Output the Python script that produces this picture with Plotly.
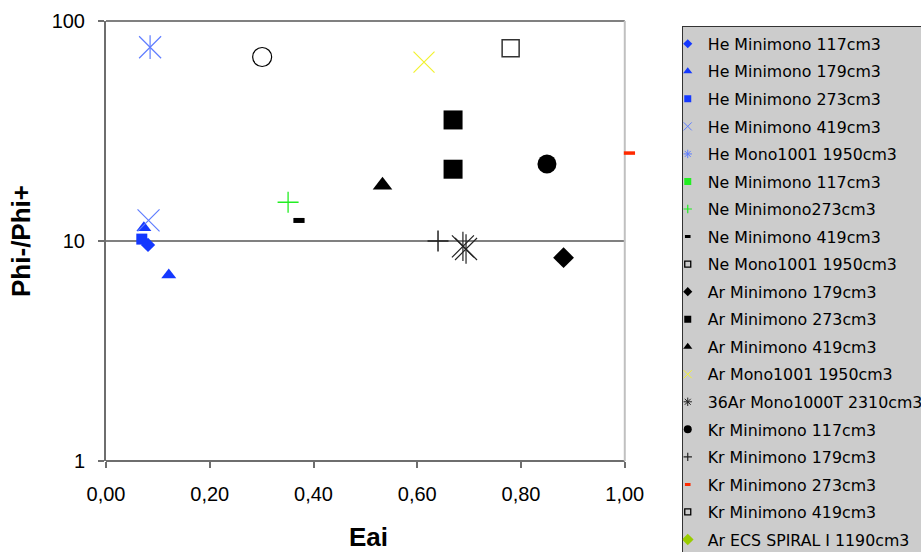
import plotly.graph_objects as go

# ---- data ----
names = [
    "He Minimono 117cm3", "He Minimono 179cm3", "He Minimono 273cm3",
    "He Minimono 419cm3", "He Mono1001 1950cm3", "Ne Minimono 117cm3",
    "Ne Minimono273cm3", "Ne Minimono 419cm3", "Ne Mono1001 1950cm3",
    "Ar Minimono 179cm3", "Ar Minimono 273cm3", "Ar Minimono 419cm3",
    "Ar Mono1001 1950cm3", "36Ar Mono1000T 2310cm3", "Kr Minimono 117cm3",
    "Kr Minimono 179cm3", "Kr Minimono 273cm3", "Kr Minimono 419cm3",
    "Ar ECS SPIRAL I 1190cm3",
]
he117_x, he117_y = [0.081], [9.6]
he179_x, he179_y = [0.073, 0.121], [11.5, 7.0]
he273_x, he273_y = [0.069], [10.2]
he419_x, he419_y = [0.082], [12.4]
he1950_x, he1950_y = [0.085], [76.0]
ne117_x, ne117_y = [None], [None]      # no visible point in the picture
ne273_x, ne273_y = [0.351], [15.0]
ne419_x, ne419_y = [0.372], [12.4]
ne1950_x, ne1950_y = [0.301], [68.6]
ar179_x, ar179_y = [0.882], [8.4]
ar273_x, ar273_y = [0.669, 0.669], [35.5, 21.2]
ar419_x, ar419_y = [0.533], [17.9]
ar1950_x, ar1950_y = [0.613], [65.0]
ar36_x, ar36_y = [0.688, 0.694], [9.45, 9.2]
kr117_x, kr117_y = [0.850], [22.4]
kr179_x, kr179_y = [0.640], [10.0]
kr273_x, kr273_y = [1.009], [25.1]
kr419_x, kr419_y = [0.780], [75.2]
ecs_x, ecs_y = [None], [None]          # no visible point in the picture

x_tickvals = [0, 0.2, 0.4, 0.6, 0.8, 1.0]
x_ticktext = ["0,00", "0,20", "0,40", "0,60", "0,80", "1,00"]
y_tickvals = [1, 10, 100]
y_ticktext = ["1", "10", "100"]

# ---- styles ----
BLUE = "#1438ff"
LBLUE = "#5f7dff"
GREEN = "#22ee22"
YELLOW = "#f2f230"
RED = "#ff2a00"
BLACK = "#000000"
DGRAY = "#222222"
LIME = "#99cc00"


def thin(sym, size, col, w=1.2):
    return dict(symbol=sym, size=size, color=col, line=dict(color=col, width=w))


# (x, y, marker in the plot, marker in the legend)
series = [
    (he117_x, he117_y, dict(symbol="diamond", size=11, color=BLUE), dict(symbol="diamond", size=7, color=BLUE)),
    (he179_x, he179_y, dict(symbol="triangle-up", size=13, color=BLUE), dict(symbol="triangle-up", size=8, color=BLUE)),
    (he273_x, he273_y, dict(symbol="square", size=11, color=BLUE), dict(symbol="square", size=7, color=BLUE)),
    (he419_x, he419_y, thin("x-thin-open", 22, LBLUE), thin("x-thin-open", 8, LBLUE, 1)),
    (he1950_x, he1950_y, thin("x-thin-open", 22, LBLUE), thin("asterisk-open", 7, LBLUE, 1)),
    (ne117_x, ne117_y, dict(symbol="square", size=9, color=GREEN), dict(symbol="square", size=7, color=GREEN)),
    (ne273_x, ne273_y, thin("cross-thin-open", 15, GREEN, 1.3), thin("cross-thin-open", 6, GREEN, 1.2)),
    (ne419_x, ne419_y, thin("line-ew-open", 8, BLACK, 5), thin("line-ew-open", 4, BLACK, 3)),
    (ne1950_x, ne1950_y, thin("circle-open", 19, BLACK), thin("square-open", 6, BLACK, 1.3)),
    (ar179_x, ar179_y, dict(symbol="diamond", size=16, color=BLACK), dict(symbol="diamond", size=7, color=BLACK)),
    (ar273_x, ar273_y, dict(symbol="square", size=19, color=BLACK), dict(symbol="square", size=7, color=BLACK)),
    (ar419_x, ar419_y, dict(symbol="triangle-up", size=17, color=BLACK), dict(symbol="triangle-up", size=8, color=BLACK)),
    (ar1950_x, ar1950_y, thin("x-thin-open", 21, YELLOW), thin("x-thin-open", 8, YELLOW, 1)),
    (ar36_x, ar36_y, thin("x-thin-open", 22, DGRAY), thin("asterisk-open", 7, DGRAY, 1)),
    (kr117_x, kr117_y, dict(symbol="circle", size=19, color=BLACK), dict(symbol="circle", size=8, color=BLACK)),
    (kr179_x, kr179_y, thin("cross-thin-open", 15, DGRAY, 1.5), thin("cross-thin-open", 6, DGRAY, 1.2)),
    (kr273_x, kr273_y, thin("line-ew-open", 8, RED, 3.5), thin("line-ew-open", 4, RED, 3)),
    (kr419_x, kr419_y, thin("square-open", 17, "#333333", 1.5), thin("square-open", 6, BLACK, 1.3)),
    (ecs_x, ecs_y, dict(symbol="diamond", size=11, color=LIME), dict(symbol="diamond", size=9, color=LIME)),
]

fig = go.Figure()
for i, (nm, (xs, ys, mk, lmk)) in enumerate(zip(names, series)):
    grp = f"g{i}"
    # legend entry (small symbol as in the reference legend)
    fig.add_trace(go.Scatter(
        x=[None], y=[None], mode="markers", name=nm, marker=lmk,
        legendgroup=grp, showlegend=True, hoverinfo="skip",
    ))
    # plotted points
    fig.add_trace(go.Scatter(
        x=xs, y=ys, mode="markers", name=nm, marker=mk,
        legendgroup=grp, showlegend=False, cliponaxis=False,
        hoverinfo="x+y+name",
    ))

# vertical arm of the asterisk markers
for xs, ys, col, sz, grp in [(he1950_x, he1950_y, LBLUE, 17, "g4"), (ar36_x, ar36_y, DGRAY, 21, "g13")]:
    fig.add_trace(go.Scatter(
        x=xs, y=ys, mode="markers", showlegend=False, cliponaxis=False,
        legendgroup=grp, hoverinfo="skip",
        marker=thin("line-ns-open", sz, col),
    ))

axis_font = dict(family="Liberation Sans, Arial", size=20, color="#000000")
title_font = dict(family="Liberation Sans, Arial", size=26, color="#000000")

X_MAX = 1.012   # a little room so the point just past 1,00 stays drawn
PLOT_W = 519 * X_MAX

fig.update_layout(
    width=921, height=552,
    margin=dict(l=106, r=921 - 106 - PLOT_W, t=21, b=91, autoexpand=False),
    paper_bgcolor="white", plot_bgcolor="white",
    showlegend=True,
    legend=dict(
        x=(682 - 106) / PLOT_W, y=(461 - 26) / 440, xanchor="left", yanchor="top",
        bgcolor="#cccccc", bordercolor="#333333", borderwidth=1,
        font=dict(family="DejaVu Sans, Verdana", size=15.8, color="#000000"),
        tracegroupgap=4, itemsizing="trace", indentation=-15,
        maxheight=545,
    ),
    xaxis=dict(
        range=[0, X_MAX], tickvals=x_tickvals, ticktext=x_ticktext,
        showgrid=False, zeroline=False, showline=False,
        ticks="outside", ticklen=6, tickcolor="#6e6e6e", tickwidth=2,
        tickfont=axis_font, ticklabelstandoff=9,
        title=dict(text="<b>Eai</b>", font=title_font, standoff=25),
    ),
    yaxis=dict(
        type="log", range=[0, 2], tickvals=y_tickvals, ticktext=y_ticktext,
        showgrid=False, zeroline=False,
        showline=True, linecolor="#6e6e6e", linewidth=2,
        ticks="outside", ticklen=6, tickcolor="#6e6e6e", tickwidth=2,
        tickfont=axis_font, ticklabelstandoff=9,
        title=dict(text="<b>Phi-/Phi+</b>", font=title_font, standoff=14),
    ),
    shapes=[
        # horizontal gridlines at 10 and 100, and the bottom axis line, over 0..1
        dict(type="line", xref="x", yref="paper", x0=0, x1=1, y0=0.5, y1=0.5,
             line=dict(color="#808080", width=2), layer="below"),
        dict(type="line", xref="x", yref="paper", x0=0, x1=1, y0=1, y1=1,
             line=dict(color="#808080", width=2), layer="below"),
        dict(type="line", xref="x", yref="paper", x0=0, x1=1, y0=0, y1=0,
             line=dict(color="#6e6e6e", width=2), layer="below"),
        # light right border of the plot area
        dict(type="line", xref="x", yref="paper", x0=1, x1=1, y0=0, y1=1,
             line=dict(color="#c0c0c0", width=2), layer="below"),
    ],
)

fig.write_html("out.html", config={"displayModeBar": False},
               post_script="document.body.style.margin='0';")
